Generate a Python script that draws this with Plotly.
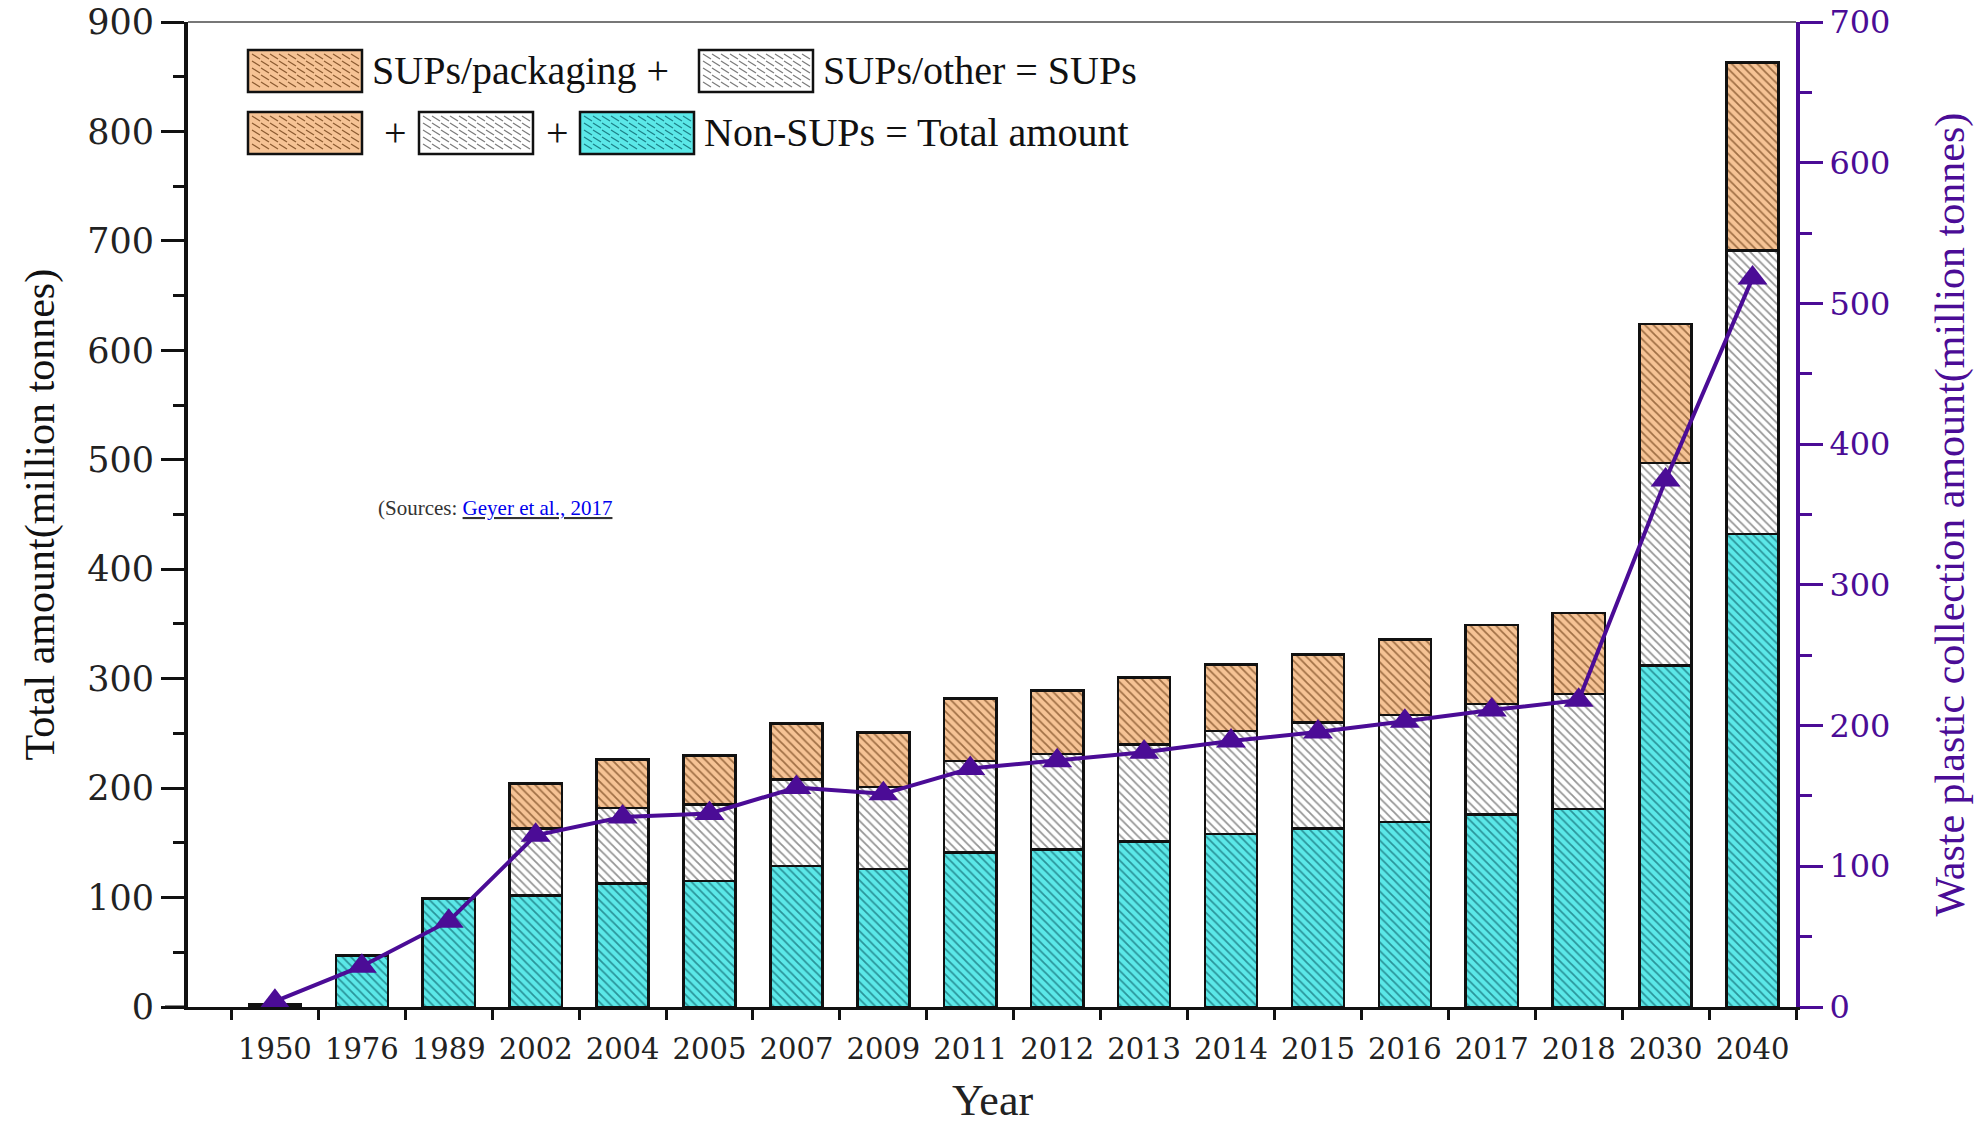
import plotly.graph_objects as go

years = ["1950", "1976", "1989", "2002", "2004", "2005", "2007", "2009", "2011",
         "2012", "2013", "2014", "2015", "2016", "2017", "2018", "2030", "2040"]
non_sups = [1.5, 47, 99, 102, 113, 115, 129, 126, 141, 144, 151, 158, 163, 169, 176, 181, 312, 432]
sups_other = [0.5, 0, 0, 61, 69, 70, 79, 75, 84, 87, 89, 94, 97, 98, 101, 105, 185, 259]
sups_packaging = [0.5, 0, 0, 41, 44, 45, 51, 50, 57, 58, 61, 61, 62, 69, 72, 74, 127, 172]
waste_collection = [4, 29, 61, 122, 135, 137.5, 156, 151.5, 169.5, 175, 181, 189, 195.5, 203, 211, 218, 374.5, 518]

W, H = 1985, 1125
L, R, T, B = 188, 1796, 22, 1007
PURPLE = "#4B0C96"
SERIF = "Liberation Serif"
ORANGE, WHITE, CYAN = "#F6C395", "#FFFFFF", "#5BE8E8"

def px(x):
    return (x - L) / (R - L)

def py(y):
    return (B - y) / (B - T)

fig = go.Figure()

def bar(name, vals, bg, fg):
    fig.add_trace(go.Bar(
        x=years, y=vals, name=name, width=0.6,
        marker=dict(color=bg, line=dict(color="#111111", width=2.5),
                    pattern=dict(shape="\\", bgcolor=bg, fgcolor=fg, fgopacity=0.8,
                                 size=6, solidity=0.3, fillmode="replace")),
        showlegend=False, cliponaxis=False))

bar("Non-SUPs", non_sups, CYAN, "#1D7F86")
bar("SUPs/other", sups_other, WHITE, "#7A7A7A")
bar("SUPs/packaging", sups_packaging, ORANGE, "#8A5A30")

fig.add_trace(go.Scatter(
    x=years, y=waste_collection, yaxis="y2", mode="lines+markers",
    line=dict(color=PURPLE, width=4),
    marker=dict(symbol="triangle-up", size=26, color=PURPLE),
    showlegend=False, cliponaxis=False))

shapes = []
shapes.append(dict(type="line", xref="paper", yref="paper", x0=0, x1=1, y0=1, y1=1,
                   line=dict(color="#777777", width=2)))
shapes.append(dict(type="line", xref="paper", yref="paper", x0=px(165), x1=0, y0=0, y1=0,
                   line=dict(color="#111111", width=3)))

def swatch(x0, x1, yc, color, hatch):
    shapes.append(dict(type="rect", xref="paper", yref="paper",
                       x0=px(x0), x1=px(x1), y0=py(yc + 21), y1=py(yc - 21),
                       fillcolor=color, line=dict(color="#111111", width=2.5)))
    step = 9
    xs = x0 + 4
    while xs < x1 - 4:
        xe = min(xs + 8, x1 - 3)
        for yy in range(int(yc - 17), int(yc + 18), 7):
            shapes.append(dict(type="line", xref="paper", yref="paper",
                               x0=px(xs), x1=px(xe), y0=py(yy), y1=py(yy + 5),
                               line=dict(color=hatch, width=1.2)))
        xs += step

row1, row2 = 71, 133
swatch(248, 362, row1, ORANGE, "#8A5A30")
swatch(699, 813, row1, WHITE, "#7A7A7A")
swatch(248, 362, row2, ORANGE, "#8A5A30")
swatch(419, 533, row2, WHITE, "#7A7A7A")
swatch(580, 694, row2, CYAN, "#1D7F86")

ann = []
def text(x, y, s, size=40, anchor="left", color="#111111", font=SERIF):
    ann.append(dict(xref="paper", yref="paper", x=px(x), y=py(y), text=s, showarrow=False,
                    xanchor=anchor, yanchor="middle", font=dict(family=font, size=size, color=color)))

text(370, row1, "SUPs/packaging +")
text(821, row1, "SUPs/other = SUPs")
text(395, row2, "+", anchor="center")
text(557, row2, "+", anchor="center")
text(702, row2, "Non-SUPs = Total amount")

text(376, 508, "(Sources: <u><span style='color:#0000EE'>Geyer et al., 2017</span></u>",
     size=21, color="#333333")

ann.append(dict(xref="paper", yref="paper", x=px(40), y=0.5, text="Total amount(million tonnes)",
                textangle=-90, showarrow=False, xanchor="center", yanchor="middle",
                font=dict(family=SERIF, size=42, color="#111111")))
ann.append(dict(xref="paper", yref="paper", x=px(1950), y=0.5,
                text="Waste plastic collection amount(million tonnes)",
                textangle=-90, showarrow=False, xanchor="center", yanchor="middle",
                font=dict(family=SERIF, size=42, color=PURPLE)))
ann.append(dict(xref="paper", yref="paper", x=0.5, y=py(1100), text="Year",
                showarrow=False, xanchor="center", yanchor="middle",
                font=dict(family=SERIF, size=44, color="#222222")))

fig.update_layout(
    width=W, height=H, barmode="stack", bargap=0.4,
    paper_bgcolor="white", plot_bgcolor="white",
    margin=dict(l=L, r=W - R, t=T, b=H - B, autoexpand=False),
    shapes=shapes, annotations=ann,
    xaxis=dict(type="category", categoryorder="array", categoryarray=years, automargin=False,
               range=[-1.0, 17.5], showgrid=False, showline=True, linecolor="#111111", linewidth=3,
               ticks="outside", tickson="boundaries", ticklen=10, tickwidth=3, tickcolor="#111111",
               ticklabelstandoff=14, ticklabeloverflow="allow",
               tickfont=dict(family="DejaVu Serif", size=29, color="#222222")),
    yaxis=dict(range=[0, 900], dtick=100, showgrid=False, zeroline=False, automargin=False,
               showline=True, linecolor="#111111", linewidth=4, ticklabeloverflow="allow",
               ticks="outside", ticklen=23, tickwidth=3, tickcolor="#111111",
               minor=dict(dtick=50, ticks="outside", ticklen=11, tickwidth=3, tickcolor="#111111"),
               tickfont=dict(family="DejaVu Serif", size=35, color="#222222")),
    yaxis2=dict(range=[0, 700], dtick=100, overlaying="y", side="right", showgrid=False,
                zeroline=False, automargin=False, showline=True, linecolor=PURPLE, linewidth=4,
                ticklabeloverflow="allow",
                ticks="outside", ticklen=23, tickwidth=3, tickcolor=PURPLE,
                minor=dict(dtick=50, ticks="outside", ticklen=12, tickwidth=3, tickcolor=PURPLE),
                tickfont=dict(family="DejaVu Serif", size=32, color=PURPLE)),
)

fig.write_html("out.html", config={"displayModeBar": False},
               post_script="document.body.style.margin='0';document.body.style.overflow='hidden';")
